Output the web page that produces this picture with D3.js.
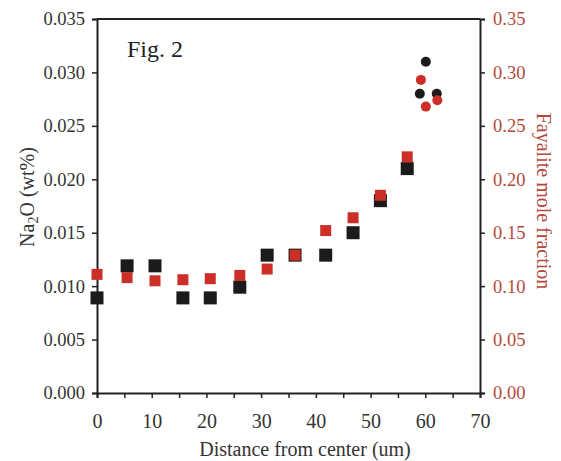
<!DOCTYPE html>
<html>
<head>
    <meta charset="utf-8">
    <script src="https://d3js.org/d3.v7.min.js"></script>
    <style type="text/css">
        html, body { margin: 0; padding: 0; background: #fff; }
        svg text { font-family: "Liberation Serif", "DejaVu Serif", serif !important; }
    </style>
</head>
<body>
    <svg id="main"></svg>
    <script>
      // data
      const distSq      = [0, 5.5, 10.6, 15.7, 20.7, 26.1, 31.1, 36.2, 41.8, 46.8, 51.8, 56.7];
      const na2oSq      = [0.0089, 0.0119, 0.0119, 0.0089, 0.0089, 0.0099, 0.0129, 0.0129, 0.0129, 0.0150, 0.0180, 0.0210];
      const fayaliteSq  = [0.111, 0.108, 0.105, 0.106, 0.107, 0.110, 0.116, 0.129, 0.152, 0.164, 0.185, 0.221];
      const distNaDot   = [60.1, 59.0, 62.1];
      const na2oDot     = [0.0310, 0.0280, 0.0280];
      const distFaDot   = [59.2, 60.1, 62.2];
      const fayaliteDot = [0.293, 0.268, 0.274];
      const xTicks  = [0, 10, 20, 30, 40, 50, 60, 70];
      const yLTicks = [0, 0.005, 0.010, 0.015, 0.020, 0.025, 0.030, 0.035];
      const yRTicks = [0, 0.05, 0.10, 0.15, 0.20, 0.25, 0.30, 0.35];

      // settings
      const width  = 561;
      const height = 461;
      const margin = {top: 19, right: 81, bottom: 68, left: 97};
      const BLACK  = "#1b1b1b";
      const RED    = "#cc2f27";
      const RTEXT  = "#b4493b";
      const FONT   = "'Liberation Serif', 'DejaVu Serif', serif";

      const svg = d3.select("#main")
        .attr("width", width)
        .attr("height", height)
        .attr("font-family", FONT);

      const x  = d3.scaleLinear().domain([0, 70]).range([margin.left, width - margin.right]);
      const yL = d3.scaleLinear().domain([0, 0.035]).range([height - margin.bottom, margin.top]);
      const yR = d3.scaleLinear().domain([0, 0.35]).range([height - margin.bottom, margin.top]);

      // frame top line
      svg.append("line")
        .attr("x1", x(0)).attr("x2", x(70))
        .attr("y1", yL(0.035)).attr("y2", yL(0.035))
        .attr("stroke", "#222").attr("stroke-width", 2);

      // axes
      const xAxis = svg.append("g")
        .attr("transform", `translate(0,${height - margin.bottom})`)
        .call(d3.axisBottom(x).tickValues(d3.range(0, 71, 5)).tickSize(5).tickPadding(16)
          .tickFormat(d => xTicks.includes(d) ? d : ""));

      const leftAxis = svg.append("g")
        .attr("transform", `translate(${margin.left},0)`)
        .call(d3.axisLeft(yL).tickValues(yLTicks).tickSize(5).tickPadding(7)
          .tickFormat(d3.format(".3f")));

      const rightAxis = svg.append("g")
        .attr("transform", `translate(${width - margin.right},0)`)
        .call(d3.axisRight(yR).tickValues(yRTicks).tickSize(5).tickPadding(8)
          .tickFormat(d3.format(".2f")));

      [xAxis, leftAxis, rightAxis].forEach(g => {
        g.attr("font-family", FONT).attr("font-size", 18.5);
        g.select(".domain").attr("stroke", "#222").attr("stroke-width", 2);
        g.selectAll(".tick line").attr("stroke", "#222").attr("stroke-width", 1.5);
      });
      xAxis.attr("font-size", 20);
      xAxis.selectAll(".tick text").attr("fill", "#333");
      leftAxis.selectAll(".tick text").attr("fill", "#333");
      rightAxis.selectAll(".tick text").attr("fill", RTEXT);

      // black squares (Na2O) under, red squares (fayalite) on top
      const sqB = 13, sqR = 11;
      svg.append("g").selectAll("rect")
        .data(distSq.map((d, i) => ({x: d, y: na2oSq[i]})))
        .enter().append("rect")
        .attr("x", d => x(d.x) - sqB / 2)
        .attr("y", d => yL(d.y) - sqB / 2)
        .attr("width", sqB).attr("height", sqB)
        .attr("fill", BLACK);

      svg.append("g").selectAll("rect")
        .data(distSq.map((d, i) => ({x: d, y: fayaliteSq[i]})))
        .enter().append("rect")
        .attr("x", d => x(d.x) - sqR / 2)
        .attr("y", d => yR(d.y) - sqR / 2)
        .attr("width", sqR).attr("height", sqR)
        .attr("fill", RED);

      svg.append("g").selectAll("circle")
        .data(distNaDot.map((d, i) => ({x: d, y: na2oDot[i]})))
        .enter().append("circle")
        .attr("cx", d => x(d.x)).attr("cy", d => yL(d.y)).attr("r", 5)
        .attr("fill", BLACK);

      svg.append("g").selectAll("circle")
        .data(distFaDot.map((d, i) => ({x: d, y: fayaliteDot[i]})))
        .enter().append("circle")
        .attr("cx", d => x(d.x)).attr("cy", d => yR(d.y)).attr("r", 5)
        .attr("fill", RED);

      // labels
      svg.append("text")
        .attr("x", 127).attr("y", 57)
        .attr("font-size", 24).attr("fill", "#222")
        .text("Fig. 2");

      svg.append("text")
        .attr("x", 305)
        .attr("y", 456)
        .attr("text-anchor", "middle")
        .attr("font-size", 20).attr("fill", "#333")
        .text("Distance from center (um)");

      const yl = svg.append("text")
        .attr("transform", "translate(34,197) rotate(-90)")
        .attr("text-anchor", "middle")
        .attr("font-size", 20).attr("fill", "#333");
      yl.append("tspan").text("Na");
      yl.append("tspan").attr("dy", 4).attr("font-size", 14).text("2");
      yl.append("tspan").attr("dy", -4).text("O (wt%)");

      svg.append("text")
        .attr("transform", "translate(537,201) rotate(90)")
        .attr("text-anchor", "middle")
        .attr("font-size", 20).attr("fill", RTEXT)
        .text("Fayalite mole fraction");
    </script>
</body>
</html>
